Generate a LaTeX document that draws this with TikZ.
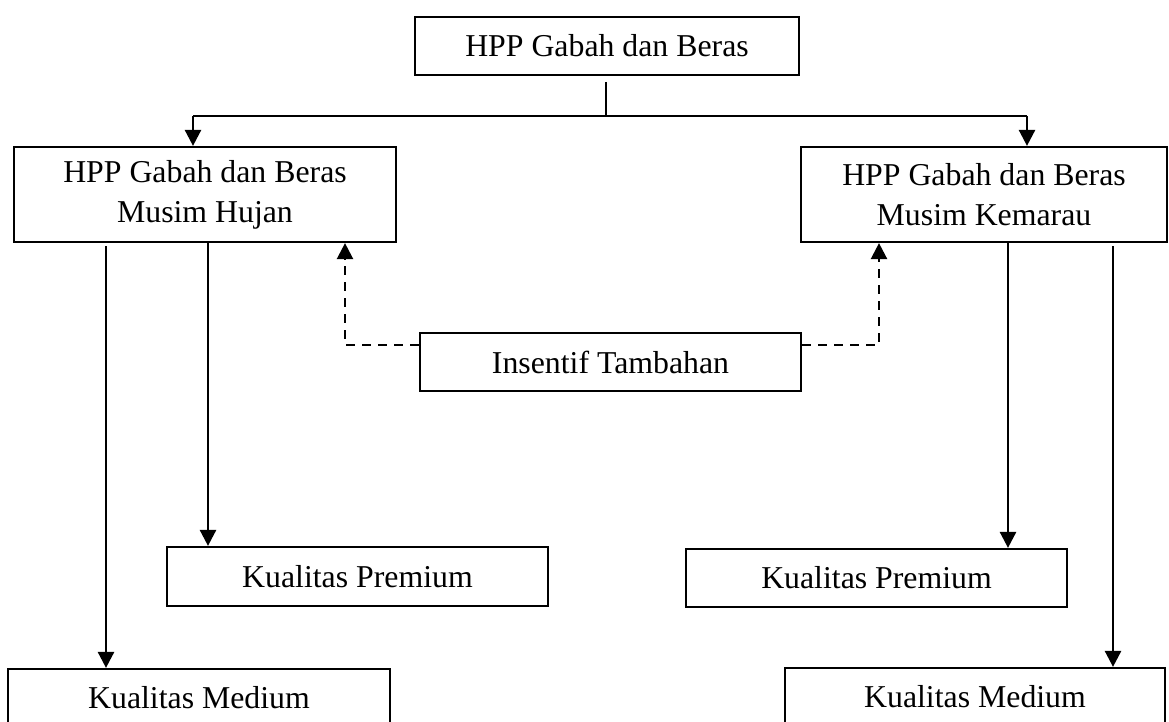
\documentclass[tikz,border=0pt]{standalone}
\usepackage{fontspec}
\setmainfont{Liberation Serif}
\usetikzlibrary{arrows.meta}
\begin{document}
\begin{tikzpicture}[x=1pt,y=-1pt,
  box/.style={draw,line width=2.2pt,inner sep=0pt,align=center,font=\fontsize{31.8}{40}\selectfont},
  plain/.style={line width=2.6pt},
  conn/.style={line width=2.6pt,-{Triangle[width=16pt,length=16pt]}},
  dconn/.style={line width=2.4pt,dash pattern=on 9pt off 7pt,-{Triangle[width=16pt,length=16pt]}},
]
\useasboundingbox (0,0) rectangle (1169,722);
\clip (0,0) rectangle (1169,722);
\node[box,minimum width=384pt,minimum height=58pt] (top) at (607,46) {HPP Gabah dan Beras};
\node[box,minimum width=382pt,minimum height=95pt] (left) at (205,194.5) {HPP Gabah dan Beras\\Musim Hujan};
\node[box,minimum width=366pt,minimum height=95pt] (right) at (984,194.5) {HPP Gabah dan Beras\\Musim Kemarau};
\node[box,minimum width=381pt,minimum height=58pt] (ins) at (610.5,362) {Insentif Tambahan};
\node[box,minimum width=381pt,minimum height=59pt] (lprem) at (357.5,576.5) {Kualitas Premium};
\node[box,minimum width=381pt,minimum height=58pt] (rprem) at (876.5,578) {Kualitas Premium};
\node[box,minimum width=382pt,minimum height=58pt] (lmed) at (199,698) {Kualitas Medium};
\node[box,minimum width=380pt,minimum height=58pt] (rmed) at (975,697) {Kualitas Medium};
% top distribution
\coordinate (s0) at (606,82);
\coordinate (j) at (606,116);
\coordinate (jl) at (193,116);
\coordinate (jr) at (1027,116);
\draw[plain] (s0) -- (j);
\draw[plain] (jl) -- (jr);
\draw[conn] (jl) -- (left.north -| jl);
\draw[conn] (jr) -- (right.north -| jr);
% left branches
\coordinate (l1) at (106,246);
\coordinate (l2) at (208,243);
\draw[conn] (l1) -- (lmed.north -| l1);
\draw[conn] (l2) -- (lprem.north -| l2);
% right branches
\coordinate (r1) at (1008,242);
\coordinate (r2) at (1113,246);
\draw[conn] (r1) -- (rprem.north -| r1);
\draw[conn] (r2) -- (rmed.north -| r2);
% dashed incentive links
\coordinate (dl) at (345,345);
\coordinate (dr) at (879,345);
\draw[dconn] (ins.west |- dl) -- (dl) -- (dl |- left.south);
\draw[dconn] (ins.east |- dr) -- (dr) -- (dr |- right.south);
\end{tikzpicture}
\end{document}
